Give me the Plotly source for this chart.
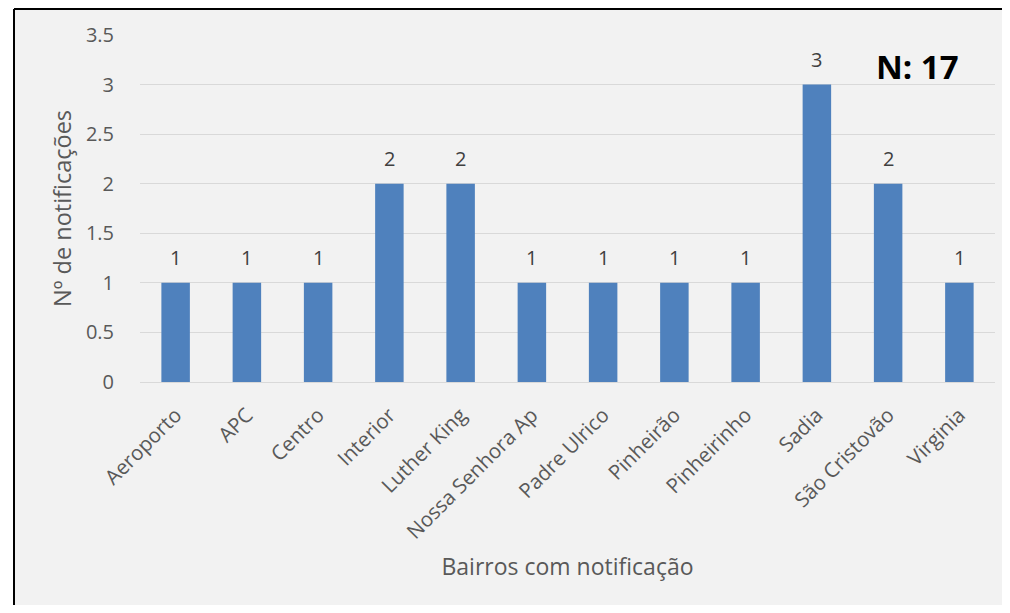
import plotly.graph_objects as go

categories = ["Aeroporto", "APC", "Centro", "Interior", "Luther King", "Nossa Senhora Ap",
              "Padre Ulrico", "Pinheirão", "Pinheirinho", "Sadia", "São Cristovão", "Virginia"]
values = [1, 1, 1, 2, 2, 1, 1, 1, 1, 3, 2, 1]
y_ticks = [0, 0.5, 1, 1.5, 2, 2.5, 3, 3.5]
total_label = "N: 17"

# page body has an 8px default margin; the figure is sized to fit inside the window without scrolling
OFF = 8
W, H = 1010 - 2 * OFF, 613 - 2 * OFF
L, T = 140 - OFF, 35 - OFF
R = W - (995 - OFF)
B = H - (382 - OFF)
pw, ph = W - L - R, H - T - B

def px_x(p):  # screen pixel -> paper x
    return (p - OFF - L) / pw

def px_y(p):  # screen pixel -> paper y
    return (H - B - (p - OFF)) / ph

FONT = "Open Sans"
GREY = "#595959"

fig = go.Figure()
fig.add_trace(go.Bar(
    x=categories, y=values,
    marker=dict(color="#4F81BD", line=dict(width=0)),
    hoverinfo="x+y",
))

for c, v in zip(categories, values):
    fig.add_annotation(x=c, y=v, text=str(v), showarrow=False, yshift=25,
                       font=dict(family=FONT, size=20, color="#404040"))

fig.add_annotation(xref="paper", yref="paper", x=px_x(917), y=px_y(67),
                   xanchor="center", yanchor="middle", text="<b>" + total_label + "</b>",
                   showarrow=False, font=dict(family=FONT, size=33, color="#000000"))

# chart-area background and its frame (only left and top edges fall inside the window)
fig.add_shape(type="rect", xref="paper", yref="paper", layer="below",
              x0=px_x(14), x1=px_x(1040), y0=px_y(650), y1=px_y(9),
              fillcolor="#F2F2F2", line=dict(width=0))
fig.add_shape(type="line", xref="paper", yref="paper", layer="below",
              x0=px_x(14), x1=px_x(14), y0=px_y(650), y1=px_y(9),
              line=dict(color="#000000", width=2))
fig.add_shape(type="line", xref="paper", yref="paper", layer="below",
              x0=px_x(14), x1=px_x(1040), y0=px_y(9), y1=px_y(9),
              line=dict(color="#000000", width=2))

fig.update_layout(
    width=W, height=H,
    margin=dict(l=L, r=R, t=T, b=B, autoexpand=False),
    paper_bgcolor="#FFFFFF",
    plot_bgcolor="rgba(0,0,0,0)",
    bargap=0.6,
    showlegend=False,
    font=dict(family=FONT, size=20, color=GREY),
    xaxis=dict(
        automargin=False,
        tickangle=-45, showgrid=False, showline=True, linecolor="#D9D9D9", linewidth=1,
        ticks="outside", ticklen=12, tickcolor="rgba(0,0,0,0)",
        tickfont=dict(family=FONT, size=20.5, color=GREY),
        title=dict(text="Bairros com notificação", font=dict(family=FONT, size=23, color=GREY), standoff=15),
        range=[-0.5, 11.5],
    ),
    yaxis=dict(
        automargin=False,
        range=[0, 3.5], tickvals=y_ticks, ticktext=[f"{t:g}" for t in y_ticks],
        showgrid=True, gridcolor="#D9D9D9", gridwidth=1, zeroline=False,
        ticks="outside", ticklen=21, tickcolor="rgba(0,0,0,0)",
        tickfont=dict(family=FONT, size=20, color=GREY),
        title=dict(text="Nº de notificações", font=dict(family=FONT, size=23.5, color=GREY), standoff=7),
    ),
)

fig.write_html("out.html")
